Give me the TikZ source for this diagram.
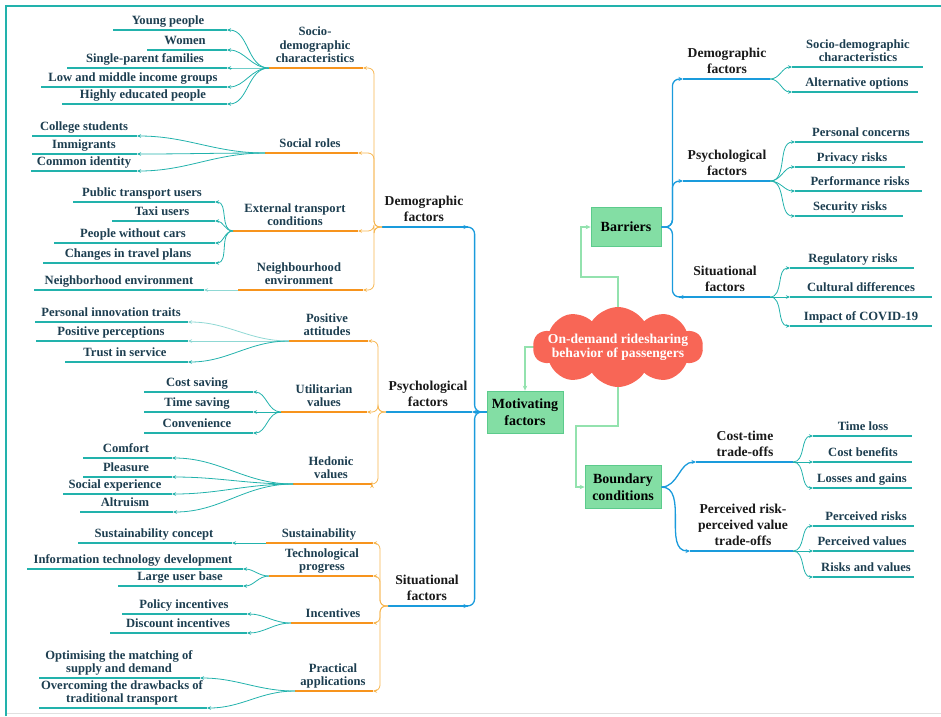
\documentclass[tikz,border=0pt]{standalone}
\usepackage{fontspec}
\setmainfont{Liberation Serif}
\usetikzlibrary{shapes.symbols,arrows.meta}
\definecolor{tealc}{HTML}{22B2AC}
\definecolor{tealf}{HTML}{8FD8D4}
\definecolor{orangec}{HTML}{F7941D}
\definecolor{orangel}{HTML}{F6B54F}
\definecolor{bluec}{HTML}{1A9BDC}
\definecolor{boxg}{HTML}{83DEA4}
\definecolor{boxgd}{HTML}{5CCB8C}
\definecolor{greenl}{HTML}{93E2AE}
\definecolor{cloudc}{HTML}{F86656}
\definecolor{txtc}{HTML}{1D3E50}
\tikzset{
 lbl/.style={font=\bfseries\fontsize{12.6}{13.5}\selectfont, text=txtc, align=center, inner sep=0pt, text depth=3.5pt, anchor=south},
 lvl/.style={font=\bfseries\fontsize{13.6}{16}\selectfont, text=black!90, align=center, inner sep=0pt, text depth=3.5pt, anchor=south},
 tline/.style={draw=tealc, line width=1.7pt},
 oline/.style={draw=orangec, line width=1.7pt},
 bline/.style={draw=bluec, line width=1.7pt},
 tcon/.style={draw=tealc, line width=0.8pt, -{Stealth[length=4pt,width=3.5pt]}},
 tconf/.style={draw=tealf, line width=0.8pt, -{Stealth[length=4pt,width=3.5pt]}},
 ocon/.style={draw=orangel, line width=0.8pt, rounded corners=6pt, -{Stealth[length=4pt,width=3.5pt]}},
 bcon/.style={draw=bluec, line width=1.3pt, rounded corners=7pt, -{Stealth[length=4.5pt,width=4pt]}},
 gcon/.style={draw=greenl, line width=1.1pt, -{Stealth[length=5pt,width=4.5pt]}},
 gbox/.style={draw=boxgd, fill=boxg, line width=0.8pt, font=\bfseries\fontsize{14}{17}\selectfont, align=center, inner sep=0pt},
}
\newcommand\mkitem[8]{%
 \coordinate (#1-a) at (#4,-#3);
 \coordinate (#1-b) at (#5,-#3);
 \draw[#8] (#1-a) -- (#1-b);
 \node[#7] (#1) at (#2,-#3+1.5) {#6};}
\begin{document}
\begin{tikzpicture}[x=1pt,y=1pt]
\useasboundingbox (0,0) rectangle (941,-716);
\draw[black!12, line width=0.8pt] (6,-713) -- (941,-713);
\draw[tealc, line width=1.8pt] (6,-716) -- (6,-6) -- (941,-6);
% ---------------- left: demographic
\mkitem{yp}{168}{30}{113}{227}{Young people}{lbl}{tline}
\mkitem{wo}{185}{50}{147}{227}{Women}{lbl}{tline}
\mkitem{sp}{145}{68}{67}{227}{Single-parent families}{lbl}{tline}
\mkitem{lm}{133}{87}{41}{227}{Low and middle income groups}{lbl}{tline}
\mkitem{he}{143}{104}{62}{227}{Highly educated people}{lbl}{tline}
\mkitem{sd}{315}{68}{269}{363}{Socio-\\demographic\\characteristics}{lbl}{oline}
\mkitem{cs}{84}{136}{32}{137}{College students}{lbl}{tline}
\mkitem{im}{84}{154}{32}{137}{Immigrants}{lbl}{tline}
\mkitem{ci}{84}{171}{31}{137}{Common identity}{lbl}{tline}
\mkitem{sr}{310}{153}{265}{358}{Social roles}{lbl}{oline}
\mkitem{pt}{142}{202}{73}{215}{Public transport users}{lbl}{tline}
\mkitem{tx}{162}{221}{112}{215}{Taxi users}{lbl}{tline}
\mkitem{pw}{133}{243}{54}{215}{People without cars}{lbl}{tline}
\mkitem{ct}{128}{263}{43}{215}{Changes in travel plans}{lbl}{tline}
\mkitem{et}{295}{231}{233}{358}{External transport\\conditions}{lbl}{oline}
\mkitem{nh}{119}{290}{34}{204}{Neighborhood environment}{lbl}{tline}
\mkitem{ne}{299}{290}{238}{363}{Neighbourhood\\environment}{lbl}{oline}
\mkitem{demL}{424}{227}{382}{468}{Demographic\\factors}{lvl}{bline}
\foreach \n in {yp,wo,sp,lm,he} \draw[tcon] (sd-a) to[out=180,in=0] (\n-b);
\foreach \n in {cs,im,ci} \draw[tcon] (sr-a) to[out=180,in=0] (\n-b);
\foreach \n in {pt,tx,pw,ct} \draw[tcon] (et-a) to[out=180,in=0] (\n-b);
\draw[tconf] (ne-a) -- (nh-b);
\foreach \n in {sd,sr,et,ne} \draw[ocon] (demL-a) -- ++(-8,0) |- (\n-b);
% ---------------- left: psychological
\mkitem{pi}{111}{322}{35}{188}{Personal innovation traits}{lbl}{tline}
\mkitem{pp}{111}{341}{36}{188}{Positive perceptions}{lbl}{tline}
\mkitem{ts}{125}{362}{65}{188}{Trust in service}{lbl}{tline}
\mkitem{pa}{327}{341}{289}{368}{Positive\\attitudes}{lbl}{oline}
\mkitem{csv}{197}{392}{144}{253}{Cost saving}{lbl}{tline}
\mkitem{tsv}{197}{412}{144}{253}{Time saving}{lbl}{tline}
\mkitem{cv}{197}{433}{144}{253}{Convenience}{lbl}{tline}
\mkitem{uv}{324}{412}{281}{367}{Utilitarian\\values}{lbl}{oline}
\mkitem{cf}{126}{458}{83}{172}{Comfort}{lbl}{tline}
\mkitem{pl}{126}{477}{83}{172}{Pleasure}{lbl}{tline}
\mkitem{se}{115}{494}{63}{172}{Social experience}{lbl}{tline}
\mkitem{al}{125}{512}{80}{173}{Altruism}{lbl}{tline}
\mkitem{hv}{331}{484}{293}{372}{Hedonic\\values}{lbl}{oline}
\mkitem{psyL}{428}{412}{386}{472}{Psychological\\factors}{lvl}{bline}
\draw[tconf] (pa-a) to[out=180,in=0] (pi-b);
\draw[tconf] (pa-a) to[out=180,in=0] (pp-b);
\draw[tcon] (pa-a) to[out=180,in=0] (ts-b);
\foreach \n in {csv,tsv,cv} \draw[tcon] (uv-a) to[out=180,in=0] (\n-b);
\foreach \n in {cf,pl,se,al} \draw[tcon] (hv-a) to[out=180,in=0] (\n-b);
\foreach \n in {pa,uv,hv} \draw[ocon] (psyL-a) -- ++(-8,0) |- (\n-b);
% ---------------- left: situational
\mkitem{sc}{154}{543}{78}{232}{Sustainability concept}{lbl}{tline}
\mkitem{su}{319}{543}{266}{373}{Sustainability}{lbl}{oline}
\mkitem{itd}{133}{569}{27}{243}{Information technology development}{lbl}{tline}
\mkitem{lu}{180}{586}{118}{243}{Large user base}{lbl}{tline}
\mkitem{tp}{322}{576}{269}{373}{Technological\\progress}{lbl}{oline}
\mkitem{pol}{184}{614}{122}{247}{Policy incentives}{lbl}{tline}
\mkitem{di}{178}{633}{110}{247}{Discount incentives}{lbl}{tline}
\mkitem{inc}{333}{623}{291}{373}{Incentives}{lbl}{oline}
\mkitem{om}{119}{678}{39}{200}{Optimising the matching of\\supply and demand}{lbl}{tline}
\mkitem{ov}{122}{708}{39}{207}{Overcoming the drawbacks of\\traditional transport}{lbl}{tline}
\mkitem{pr}{333}{691}{295}{373}{Practical\\applications}{lbl}{oline}
\mkitem{sitL}{427}{606}{388}{468}{Situational\\factors}{lvl}{bline}
\draw[tcon] (su-a) -- (sc-b);
\foreach \n in {itd,lu} \draw[tcon] (tp-a) to[out=180,in=0] (\n-b);
\foreach \n in {pol,di} \draw[tcon] (inc-a) to[out=180,in=0] (\n-b);
\foreach \n in {om,ov} \draw[tcon] (pr-a) to[out=180,in=0] (\n-b);
\foreach \n in {su,tp,inc,pr} \draw[ocon] (sitL-a) -- ++(-8,0) |- (\n-b);
% ---------------- centre
\node[gbox, minimum width=76pt, minimum height=42pt] (mot) at (525,-412) {Motivating\\factors};
\node[gbox, minimum width=70pt, minimum height=39pt] (bar) at (626,-227) {Barriers};
\node[gbox, minimum width=76pt, minimum height=43pt] (bnd) at (623,-487) {Boundary\\conditions};
\draw[bcon] (mot.west) -- ++(-12,0) |- (demL-b);
\draw[bcon] (mot.west) -- (psyL-b);
\draw[bcon] (mot.west) -- ++(-12,0) |- (sitL-b);
\coordinate (cltop) at (618,-330);
\coordinate (clleft) at (560,-347);
\coordinate (clbot) at (618,-365);
\coordinate (g1v) at (581,-277);
\coordinate (g3v) at (576,-426);
\draw[gcon] (cltop) |- (g1v) |- (bar.west);
\draw[gcon] (clleft) -| (mot.north);
\draw[gcon] (clbot) |- (g3v) |- (bnd.west);
\node[cloud, cloud puffs=10, cloud puff arc=115, aspect=2.3, fill=cloudc, minimum width=170pt, minimum height=80pt, inner sep=0pt] (cloud) at (618,-347) {};
\node[text=white, font=\bfseries\fontsize{13.6}{14}\selectfont, align=center, inner sep=0pt] (cloudtxt) at (618,-347) {On-demand ridesharing\\behavior of passengers};
% ---------------- right: barriers
\mkitem{rdem}{727}{79}{683}{770}{Demographic\\factors}{lvl}{bline}
\mkitem{rsd}{858}{67}{792}{923}{Socio-demographic\\characteristics}{lbl}{tline}
\mkitem{rao}{857}{92}{792}{918}{Alternative options}{lbl}{tline}
\mkitem{rpsy}{727}{181}{683}{770}{Psychological\\factors}{lvl}{bline}
\mkitem{rpc}{861}{142}{795}{923}{Personal concerns}{lbl}{tline}
\mkitem{rpr}{852}{167}{795}{905}{Privacy risks}{lbl}{tline}
\mkitem{rpf}{860}{191}{795}{922}{Performance risks}{lbl}{tline}
\mkitem{rsr}{850}{216}{795}{903}{Security risks}{lbl}{tline}
\mkitem{rsit}{725}{297}{679}{770}{Situational\\factors}{lvl}{bline}
\mkitem{rrr}{853}{268}{790}{914}{Regulatory risks}{lbl}{tline}
\mkitem{rcd}{861}{297}{790}{932}{Cultural differences}{lbl}{tline}
\mkitem{ric}{861}{326}{790}{932}{Impact of COVID-19}{lbl}{tline}
\foreach \n in {rdem,rpsy,rsit} \draw[bcon] (bar.east) -- ++(11,0) |- (\n-a);
\foreach \n in {rsd,rao} \draw[tcon] (rdem-b) to[out=0,in=180] (\n-a);
\foreach \n in {rpc,rpr,rpf,rsr} \draw[tcon] (rpsy-b) to[out=0,in=180] (\n-a);
\foreach \n in {rrr,rcd,ric} \draw[tcon] (rsit-b) to[out=0,in=180] (\n-a);
% ---------------- right: boundary conditions
\mkitem{ctt}{745}{462}{696}{793}{Cost-time\\trade-offs}{lvl}{bline}
\mkitem{tl}{863}{436}{813}{912}{Time loss}{lbl}{tline}
\mkitem{cb}{863}{462}{813}{912}{Cost benefits}{lbl}{tline}
\mkitem{lg}{862}{488}{813}{912}{Losses and gains}{lbl}{tline}
\mkitem{prv}{743}{551}{690}{793}{Perceived risk-\\perceived value\\trade-offs}{lvl}{bline}
\mkitem{prk}{866}{526}{813}{914}{Perceived risks}{lbl}{tline}
\mkitem{pvl}{862}{551}{813}{914}{Perceived values}{lbl}{tline}
\mkitem{rav}{866}{577}{813}{914}{Risks and values}{lbl}{tline}
\foreach \n in {ctt,prv} \draw[bcon] (bnd.east) to[out=0,in=180] (\n-a);
\foreach \n in {tl,cb,lg} \draw[tcon] (ctt-b) to[out=0,in=180] (\n-a);
\foreach \n in {prk,pvl,rav} \draw[tcon] (prv-b) to[out=0,in=180] (\n-a);
\end{tikzpicture}
\end{document}
